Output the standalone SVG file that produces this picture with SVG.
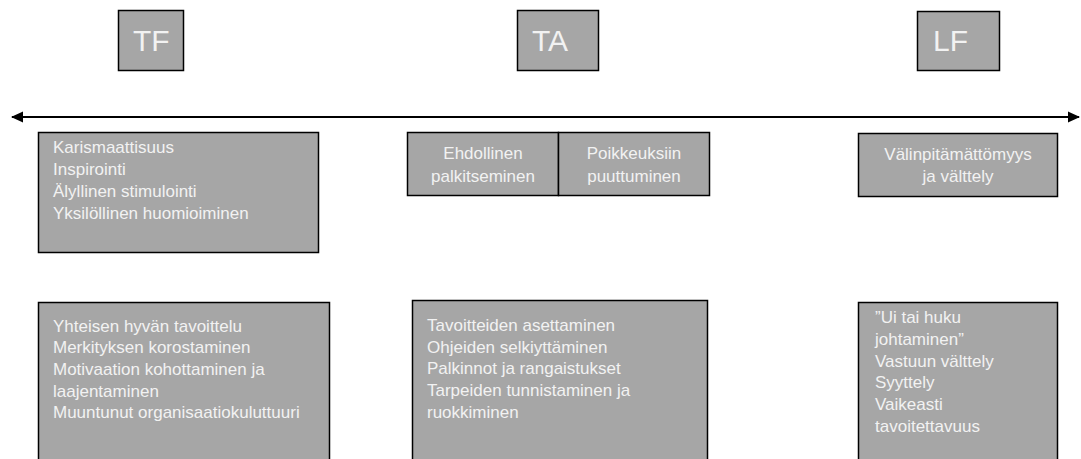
<svg xmlns="http://www.w3.org/2000/svg" width="1081" height="459" viewBox="0 0 1081 459">
<style>
.box{fill:#a6a6a6;stroke:#000;stroke-width:1.5}
.hd{font-family:"Liberation Sans",Arial,sans-serif;font-size:30px;fill:#f2f2f2}
.t{font-family:"Liberation Sans",Arial,sans-serif;font-size:17px;fill:#f2f2f2}
.c{text-anchor:middle}
.ax{stroke:#000;stroke-width:2;fill:none}
</style>
<defs>
<marker id="ah" viewBox="0 0 12 12" refX="11" refY="6" markerWidth="12" markerHeight="12" markerUnits="userSpaceOnUse" orient="auto-start-reverse">
<path d="M0,0.5 L12,6 L0,11.5 Z" fill="#000"/>
</marker>
</defs>
<rect width="1081" height="459" fill="#fff"/>
<g id="connectors">
<line class="ax" x1="12" y1="117" x2="1079" y2="117" marker-start="url(#ah)" marker-end="url(#ah)"/>
</g>
<g id="tf-head">
<rect class="box" x="118.5" y="10.5" width="65" height="60"/>
<text class="hd" x="133" y="51">TF</text>
</g>
<g id="ta-head">
<rect class="box" x="517.5" y="10.5" width="81" height="60"/>
<text class="hd" x="532" y="51">TA</text>
</g>
<g id="lf-head">
<rect class="box" x="917.5" y="11.5" width="82" height="59"/>
<text class="hd" x="933" y="51">LF</text>
</g>
<g id="tf-top">
<rect class="box" x="38.5" y="132.5" width="280" height="120"/>
<text class="t" x="53" y="153">Karismaattisuus</text>
<text class="t" x="53" y="175">Inspirointi</text>
<text class="t" x="53" y="197">Älyllinen stimulointi</text>
<text class="t" x="53" y="219">Yksilöllinen huomioiminen</text>
</g>
<g id="ta-top-1">
<rect class="box" x="407.5" y="132.5" width="151" height="63"/>
<text class="t c" x="483" y="159">Ehdollinen</text>
<text class="t c" x="483" y="182">palkitseminen</text>
</g>
<g id="ta-top-2">
<rect class="box" x="558.5" y="132.5" width="151" height="63"/>
<text class="t c" x="634" y="159">Poikkeuksiin</text>
<text class="t c" x="634" y="182">puuttuminen</text>
</g>
<g id="lf-top">
<rect class="box" x="858.5" y="133.5" width="199" height="63"/>
<text class="t c" x="958" y="160">Välinpitämättömyys</text>
<text class="t c" x="958" y="182">ja välttely</text>
</g>
<g id="tf-bottom">
<rect class="box" x="38.5" y="302.5" width="291" height="170"/>
<text class="t" x="53" y="332">Yhteisen hyvän tavoittelu</text>
<text class="t" x="53" y="353">Merkityksen korostaminen</text>
<text class="t" x="53" y="375">Motivaation kohottaminen ja</text>
<text class="t" x="53" y="397">laajentaminen</text>
<text class="t" x="53" y="418">Muuntunut organisaatiokuluttuuri</text>
</g>
<g id="ta-bottom">
<rect class="box" x="412.5" y="300.5" width="295" height="170"/>
<text class="t" x="427" y="331">Tavoitteiden asettaminen</text>
<text class="t" x="427" y="353">Ohjeiden selkiyttäminen</text>
<text class="t" x="427" y="374">Palkinnot ja rangaistukset</text>
<text class="t" x="427" y="396">Tarpeiden tunnistaminen ja</text>
<text class="t" x="427" y="418">ruokkiminen</text>
</g>
<g id="lf-bottom">
<rect class="box" x="858.5" y="302.5" width="199" height="170"/>
<text class="t" x="875" y="323">”Ui tai huku</text>
<text class="t" x="875" y="345">johtaminen”</text>
<text class="t" x="875" y="367">Vastuun välttely</text>
<text class="t" x="875" y="388">Syyttely</text>
<text class="t" x="875" y="410">Vaikeasti</text>
<text class="t" x="875" y="432">tavoitettavuus</text>
</g>
</svg>
